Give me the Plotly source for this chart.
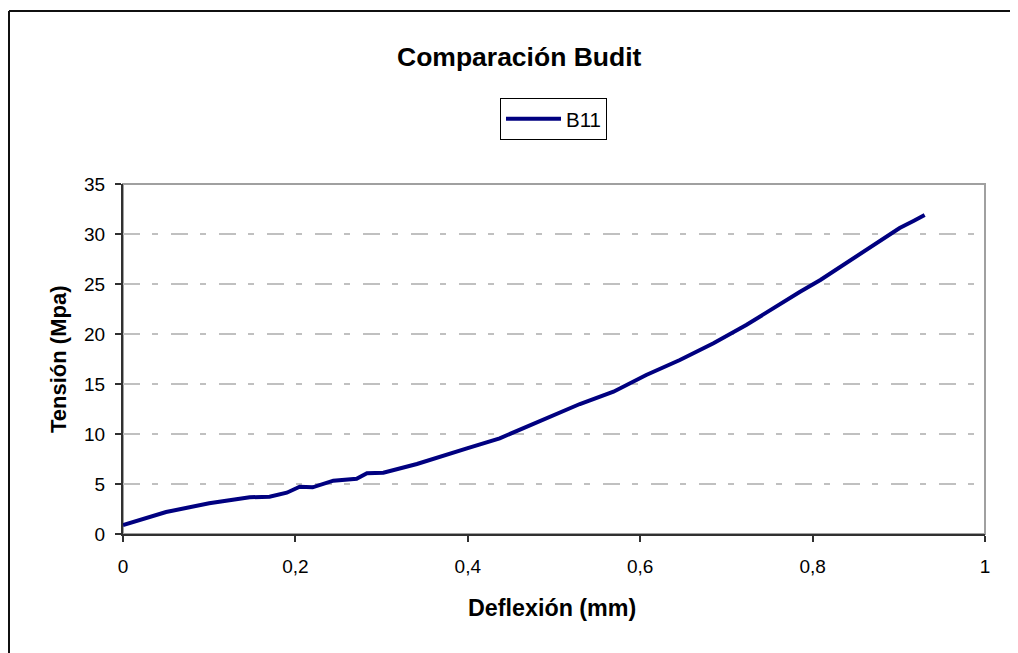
import plotly.graph_objects as go

# Comparación Budit - curva B11
deflexion = [0, 0.05, 0.1, 0.147, 0.17, 0.19, 0.205, 0.22, 0.244, 0.271, 0.283,
             0.302, 0.341, 0.36, 0.399, 0.437, 0.453, 0.491, 0.53, 0.569, 0.607,
             0.646, 0.685, 0.723, 0.762, 0.785, 0.809, 0.832, 0.855, 0.878,
             0.901, 0.917, 0.93]
tension = [0.9, 2.2, 3.07, 3.67, 3.73, 4.13, 4.73, 4.67, 5.33, 5.53, 6.07,
           6.13, 7.0, 7.53, 8.57, 9.57, 10.17, 11.57, 13.0, 14.23, 15.9,
           17.4, 19.07, 20.9, 23.0, 24.2, 25.4, 26.7, 27.9, 29.2,
           30.6, 31.3, 31.9]

x_ticks = [0, 0.2, 0.4, 0.6, 0.8, 1]
x_ticklabels = ["0", "0,2", "0,4", "0,6", "0,8", "1"]
y_ticks = [0, 5, 10, 15, 20, 25, 30, 35]

OFF = 8  # page body margin
W, H = 1018 - OFF, 653 - OFF
# plot area, in screen pixels
L, R, T, B = 123, 985, 184, 534
pw, ph = R - L, B - T


def px(xs):
    return (xs - L) / pw


def py(ys):
    return (B - ys) / ph


FONT = "Arial, Liberation Sans, sans-serif"

fig = go.Figure()
fig.add_trace(go.Scatter(x=deflexion, y=tension, mode="lines", name="B11",
                         line=dict(color="#000080", width=4)))

fig.update_layout(
    width=W, height=H,
    margin=dict(l=L - OFF, r=W - (R - OFF), t=T - OFF, b=H - (B - OFF)),
    paper_bgcolor="white", plot_bgcolor="white",
    font=dict(family=FONT, color="black", size=19),
    separators=",.",
    showlegend=True,
    legend=dict(x=px(553.5), y=py(119), xanchor="center", yanchor="middle",
                bordercolor="black", borderwidth=1, font=dict(size=20.5),
                itemwidth=55, bgcolor="white"),
    xaxis=dict(range=[0, 1], tickvals=x_ticks, ticktext=x_ticklabels,
               showgrid=False, zeroline=False, showline=True,
               linecolor="#303030", linewidth=2, ticks="outside",
               ticklen=6, tickwidth=1.5, tickcolor="#303030",
               ticklabelstandoff=8),
    yaxis=dict(range=[0, 35], tickvals=y_ticks, showgrid=True,
               gridcolor="#c0c0c0", gridwidth=1.5,
               griddash="17px,12px,6px,13px", zeroline=False,
               showline=True, linecolor="#303030", linewidth=2,
               ticks="outside", ticklen=6, tickwidth=1.5,
               tickcolor="#303030", ticklabelstandoff=6),
    shapes=[
        # plot area frame (grey top/right)
        dict(type="rect", xref="paper", yref="paper", x0=0, x1=1, y0=0, y1=1,
             line=dict(color="#a0a0a0", width=2), layer="below"),
        # chart border: only left and top edges are visible
        dict(type="line", xref="paper", yref="paper",
             x0=px(9), x1=px(9), y0=py(720), y1=py(11),
             line=dict(color="#101010", width=2)),
        dict(type="line", xref="paper", yref="paper",
             x0=px(9), x1=px(1100), y0=py(11), y1=py(11),
             line=dict(color="#101010", width=2)),
    ],
    annotations=[
        dict(text="<b>Comparación Budit</b>", xref="paper", yref="paper",
             x=px(519), y=py(57), xanchor="center", yanchor="middle",
             showarrow=False, font=dict(size=26.5)),
        dict(text="<b>Deflexión (mm)</b>", xref="paper", yref="paper",
             x=px(552), y=py(608), xanchor="center", yanchor="middle",
             showarrow=False, font=dict(size=23.3)),
        dict(text="<b>Tensión (Mpa)</b>", xref="paper", yref="paper",
             x=px(58), y=py(360), xanchor="center", yanchor="middle",
             textangle=-90, showarrow=False, font=dict(size=22)),
    ],
)

fig.write_html("out.html")
